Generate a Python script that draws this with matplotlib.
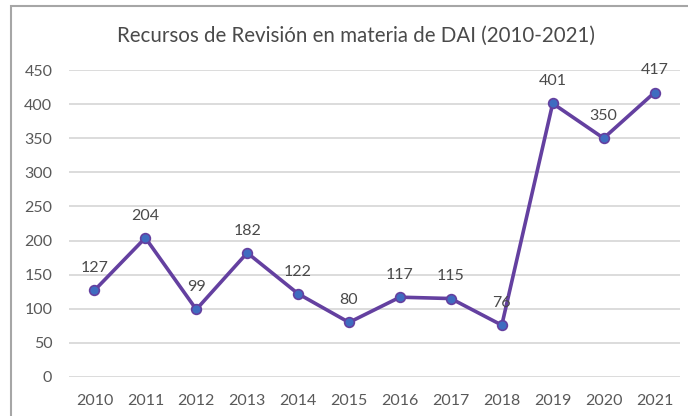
import matplotlib
matplotlib.use('Agg')
import matplotlib.pyplot as plt
from matplotlib.patches import Rectangle

YEARS = ['2010', '2011', '2012', '2013', '2014', '2015', '2016',
         '2017', '2018', '2019', '2020', '2021']
RECURSOS = [127, 204, 99, 182, 122, 80, 117, 115, 76, 401, 350, 417]
YTICKS = [0, 50, 100, 150, 200, 250, 300, 350, 400, 450]

LINE_COLOR = '#6440A0'
MARKER_COLOR = '#3F6CC0'
GRID_COLOR = '#D9D9D9'
TEXT_COLOR = '#595959'

plt.rcParams['font.family'] = ['Lato', 'DejaVu Sans']

fig = plt.figure(figsize=(6.88, 4.16), dpi=100)
ax = fig.add_axes([69 / 688, 1 - 377 / 416, (680 - 69) / 688, (377 - 70) / 416])

# chart frame (cut by the image on the right and bottom)
fig.patches.append(Rectangle((11 / 688, -0.2), 1.2, 1.2 - 6 / 416,
                             transform=fig.transFigure, fill=False,
                             edgecolor='#A6A6A6', linewidth=1.5))

x = list(range(len(YEARS)))
ax.plot(x, RECURSOS, color=LINE_COLOR, linewidth=2.6, marker='o',
        markersize=7, markerfacecolor=MARKER_COLOR,
        markeredgecolor=LINE_COLOR, markeredgewidth=1.2, zorder=3)

for xi, v in zip(x, RECURSOS):
    ax.annotate(str(v), (xi, v), xytext=(0, 16), textcoords='offset points',
                ha='center', va='center', fontsize=11.5, color='#4a4a4a',
                zorder=4)

ax.set_xlim(-0.5, len(YEARS) - 0.5)
ax.set_ylim(0, 450)
ax.set_xticks(x)
ax.set_xticklabels(YEARS)
ax.set_yticks(YTICKS)
ax.yaxis.grid(True, color=GRID_COLOR, linewidth=1.3)
ax.set_axisbelow(True)
for s in ax.spines.values():
    s.set_visible(False)
ax.tick_params(axis='both', length=0, labelsize=11.5, labelcolor=TEXT_COLOR)
ax.tick_params(axis='x', pad=12)
ax.tick_params(axis='y', pad=12)

fig.text(356 / 688, 1 - 36 / 416, 'Recursos de Revisión en materia de DAI (2010-2021)',
         ha='center', va='center', fontsize=14.8, color='#4a4a4a')

fig.savefig('out.png', dpi=100)
